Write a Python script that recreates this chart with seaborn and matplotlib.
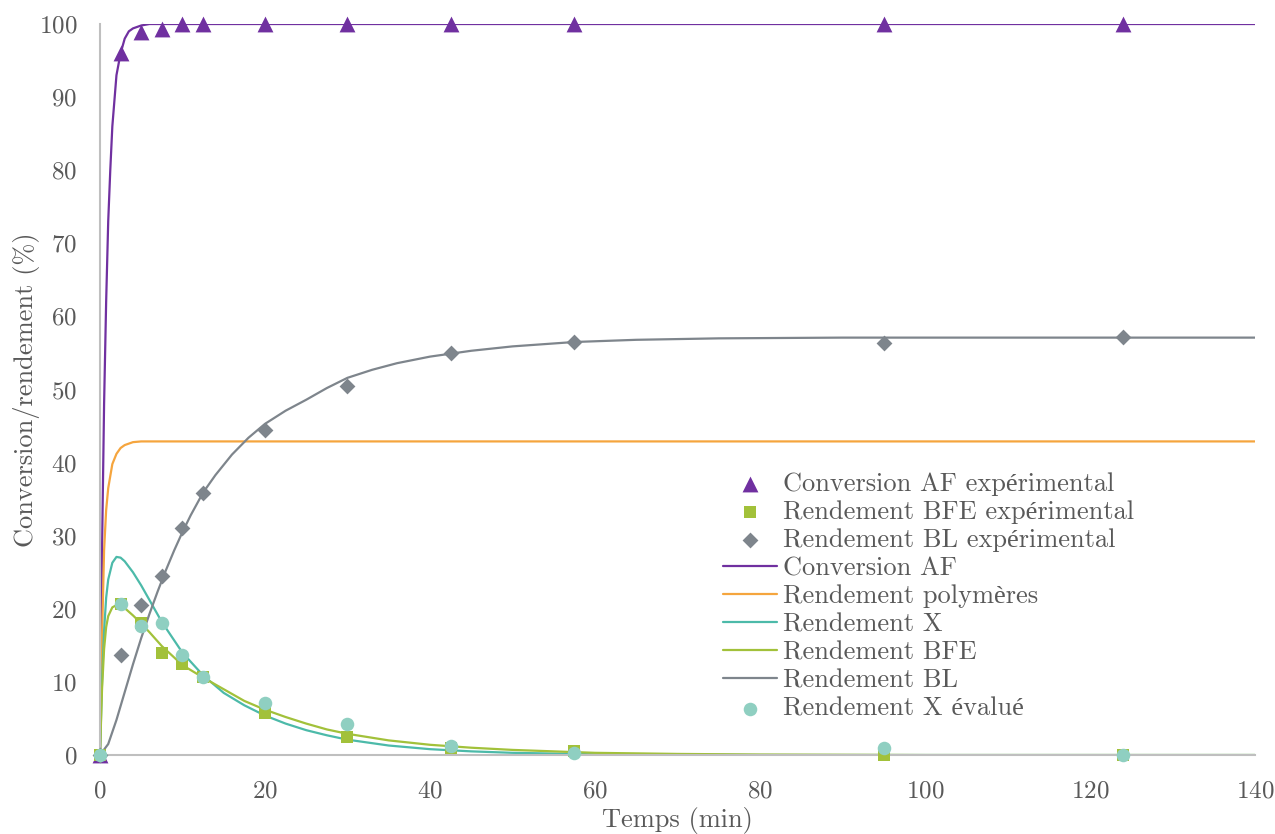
import numpy as np
import pandas as pd
import matplotlib
matplotlib.use("Agg")
import matplotlib.pyplot as plt
import seaborn as sns

# experimental sampling times (min)
t_exp = [0, 2.5, 5, 7.5, 10, 12.5, 20, 30, 42.5, 57.5, 95, 124]
conv_af_exp = [0, 96.0, 98.9, 99.3, 100, 100, 100, 100, 100, 100, 100, 100]
bfe_exp = [0, 20.6, 18.1, 14.0, 12.4, 10.7, 5.7, 2.5, 1.0, 0.55, 0, 0]
bl_exp = [0, 13.7, 20.5, 24.5, 31.1, 35.8, 44.5, 50.5, 55.0, 56.5, 56.3, 57.2]
x_eval = [0, 20.6, 17.6, 18.0, 13.7, 10.7, 7.1, 4.3, 1.2, 0.3, 0.9, 0]

# model curves
t_af = [0, 0.25, 0.5, 0.75, 1, 1.25, 1.5, 2, 2.5, 3, 3.5, 4, 5, 6, 8, 140]
conv_af = [0, 28, 48, 62, 73, 80, 86, 93, 96, 98, 99, 99.4, 99.8, 100, 100, 100]

t_poly = [0, 0.25, 0.5, 0.75, 1, 1.5, 2, 2.5, 3, 4, 5, 140]
poly = [0, 16, 28, 33.5, 36.5, 39.8, 41.2, 42.0, 42.4, 42.8, 42.9, 42.9]

t_x = [0, 0.25, 0.5, 0.75, 1, 1.5, 2, 2.5, 3, 4, 5, 6, 7.5, 10, 12.5, 15, 17.5,
       20, 22.5, 25, 27.5, 30, 35, 40, 45, 50, 60, 70, 80, 100, 140]
x_mod = [0, 10, 17, 21.5, 24, 26.3, 27.1, 27.0, 26.5, 25.0, 23.2, 21.2, 18.2,
         14.0, 10.9, 8.5, 6.8, 5.4, 4.3, 3.4, 2.7, 2.1, 1.3, 0.8, 0.5, 0.3, 0.1,
         0.05, 0, 0, 0]

t_bfe = [0, 0.25, 0.5, 0.75, 1, 1.5, 2, 2.5, 3, 4, 5, 6, 7.5, 10, 12.5, 15, 17.5,
         20, 22.5, 25, 27.5, 30, 35, 40, 45, 50, 60, 70, 80, 100, 140]
bfe_mod = [0, 9, 14.5, 17.5, 19.0, 20.2, 20.5, 20.5, 20.1, 19.1, 18.0, 16.8, 14.9,
           12.3, 10.6, 9.0, 7.4, 6.2, 5.2, 4.3, 3.5, 2.9, 2.0, 1.4, 1.0, 0.7, 0.3,
           0.15, 0.07, 0, 0]

t_bl = [0, 1, 2, 3, 4, 5, 6, 7, 8, 9, 10, 11, 12.5, 14, 16, 18, 20, 22.5, 25,
        27.5, 30, 33, 36, 40, 45, 50, 57.5, 65, 75, 90, 110, 140]
bl_mod = [0, 1.5, 4.8, 8.6, 12.4, 16.0, 19.3, 22.4, 25.3, 28.0, 30.5, 32.8, 35.9,
          38.3, 41.1, 43.4, 45.3, 47.1, 48.6, 50.2, 51.6, 52.7, 53.6, 54.5, 55.3,
          55.9, 56.5, 56.8, 57.0, 57.1, 57.1, 57.1]

PURPLE = "#7030a0"
ORANGE = "#f5a53e"
TEAL = "#4cbaa9"
GREEN = "#a2c13a"
GRAY = "#7e858c"
LTEAL = "#8fcfc1"
TXT = "#595959"
AXC = "#bfbfbf"

sns.set_theme(style="white")
plt.rcParams["font.family"] = ["cmr10", "Liberation Serif"]
plt.rcParams["axes.formatter.use_mathtext"] = True

fig = plt.figure(figsize=(12.75, 8.34), dpi=100)
ax = fig.add_axes([0.0784, 0.0947, 0.9059, 0.8765])

lw = 1.6
sns.lineplot(x=t_af, y=conv_af, color=PURPLE, lw=lw, ax=ax, label="Conversion AF")
sns.lineplot(x=t_poly, y=poly, color=ORANGE, lw=lw, ax=ax, label="Rendement polymères")
sns.lineplot(x=t_x, y=x_mod, color=TEAL, lw=lw, ax=ax, label="Rendement X")
sns.lineplot(x=t_bfe, y=bfe_mod, color=GREEN, lw=lw, ax=ax, label="Rendement BFE")
sns.lineplot(x=t_bl, y=bl_mod, color=GRAY, lw=lw, ax=ax, label="Rendement BL")

sns.scatterplot(x=t_exp, y=conv_af_exp, marker="^", s=130, color=PURPLE, linewidth=0,
                ax=ax, label="Conversion AF expérimental", clip_on=False, zorder=5)
sns.scatterplot(x=t_exp, y=bfe_exp, marker="s", s=85, color=GREEN, linewidth=0,
                ax=ax, label="Rendement BFE expérimental", clip_on=False, zorder=5)
sns.scatterplot(x=t_exp, y=bl_exp, marker="D", s=65, color=GRAY, linewidth=0,
                ax=ax, label="Rendement BL expérimental", clip_on=False, zorder=5)
sns.scatterplot(x=t_exp, y=x_eval, marker="o", s=95, color=LTEAL, linewidth=0,
                ax=ax, label="Rendement X évalué", clip_on=False, zorder=6)

ax.set_xlim(0, 140)
ax.set_ylim(0, 100)
ax.set_xticks(range(0, 141, 20))
ax.set_yticks(range(0, 101, 10))
for s in ["top", "right"]:
    ax.spines[s].set_visible(False)
for s in ["left", "bottom"]:
    ax.spines[s].set_color(AXC)
    ax.spines[s].set_linewidth(1.5)
ax.tick_params(axis="both", direction="inout", length=11, width=1.2, color=AXC,
               labelcolor=TXT, labelsize=18)
ax.tick_params(axis="x", pad=13)
ax.tick_params(axis="y", pad=11)
ax.set_xlabel("Temps (min)", fontsize=19, color=TXT, labelpad=3)
ax.set_ylabel("Conversion/rendement (%)", fontsize=19, color=TXT, labelpad=-1)

handles, labels = ax.get_legend_handles_labels()
order = ["Conversion AF expérimental", "Rendement BFE expérimental",
         "Rendement BL expérimental", "Conversion AF", "Rendement polymères",
         "Rendement X", "Rendement BFE", "Rendement BL", "Rendement X évalué"]
hmap = dict(zip(labels, handles))
leg = ax.legend([hmap[l] for l in order], order, loc="upper left",
                bbox_to_anchor=(0.539, 0.387), frameon=False, fontsize=19,
                labelspacing=0.165, handlelength=2.05, handletextpad=0.23,
                borderaxespad=0, borderpad=0, labelcolor=TXT)

fig.savefig("out.png", dpi=100)
